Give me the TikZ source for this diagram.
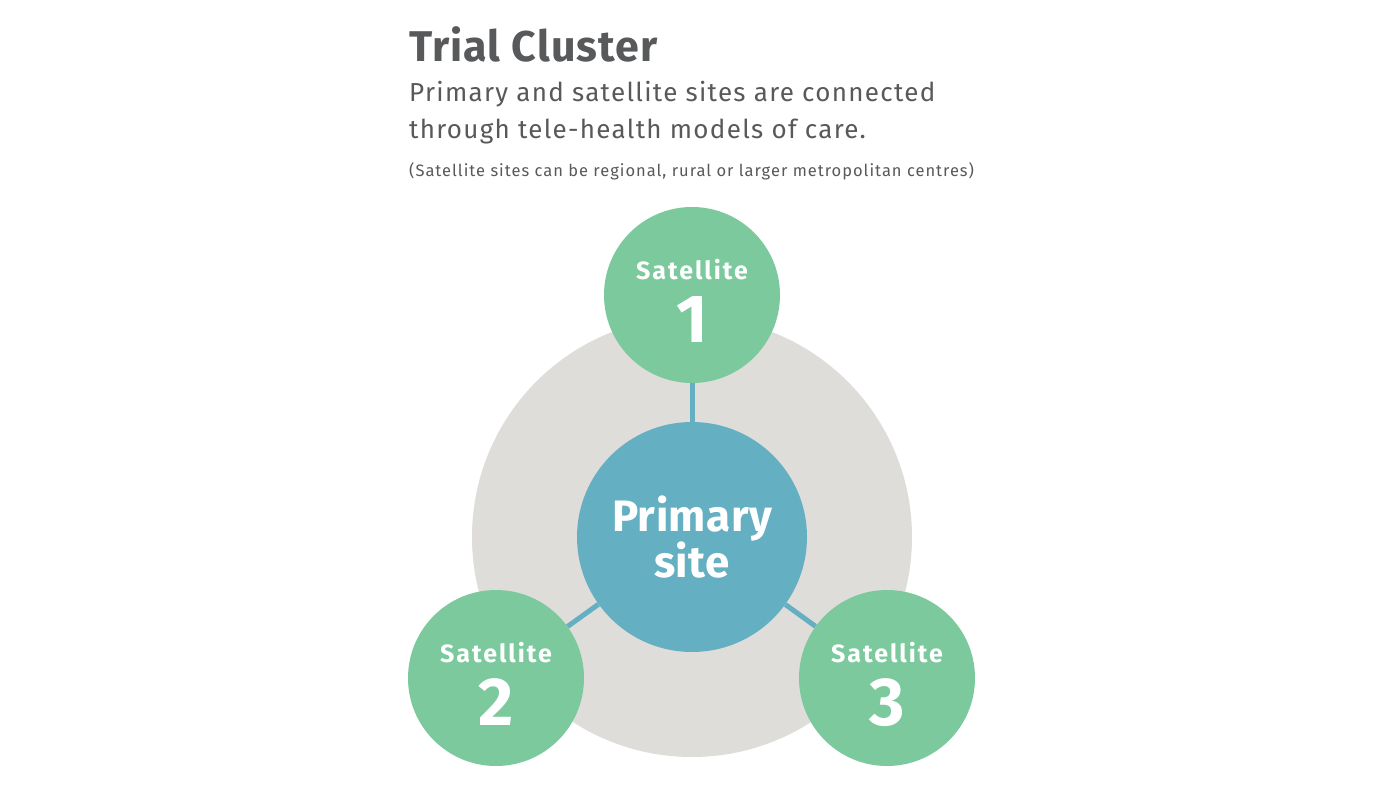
\documentclass[tikz,border=0pt]{standalone}
\usepackage{fontspec}
\setmainfont{Fira Sans}
\usepackage{xcolor}
\usepackage{tikz}
\usetikzlibrary{
    positioning,
    backgrounds
}
\definecolor{ringgray}{HTML}{DFDDD9}
\definecolor{primblue}{HTML}{65AFC3}
\definecolor{satgreen}{HTML}{7BC99C}
\definecolor{txtgray}{HTML}{58595B}
\tikzset{
    site/.style={
        circle, draw=none, inner sep=0pt
    },
    primary/.style={
        site, fill=primblue, minimum size=230pt,
        text=white, align=center,
        font=\fontsize{44}{46}\selectfont\bfseries\addfontfeature{LetterSpace=1}
    },
    satellite/.style={
        site, fill=satgreen, minimum size=176pt
    },
    sitetext/.style={
        text=white, inner sep=0pt, anchor=base
    },
    link/.style={
        draw=primblue, line width=5pt
    },
    headtext/.style={
        text=txtgray, inner sep=0pt, anchor=base west
    }
}

\begin{document}
\begin{tikzpicture}[
    x=1pt, y=-1pt,
    ring/.style={site, fill=ringgray, minimum size=440pt}
]
    \useasboundingbox (0,0) rectangle (1380,794);
    \fill[white] (0,0) rectangle (1380,794);

    % --- TITLE ---
    \node[headtext, font=\fontsize{43}{43}\selectfont\bfseries\addfontfeature{LetterSpace=2.5}] (title) at (409,62) {Trial Cluster};
    \node[headtext, font=\fontsize{26}{26}\selectfont\addfontfeature{LetterSpace=5}] (sub1) at (409,102) {Primary and satellite sites are connected};
    \node[headtext, font=\fontsize{26}{26}\selectfont\addfontfeature{LetterSpace=5}] (sub2) at (409,139) {through tele-health models of care.};
    \node[headtext, font=\fontsize{16.5}{16.5}\selectfont\addfontfeature{LetterSpace=6}] (note) at (409,177) {(Satellite sites can be regional, rural or larger metropolitan centres)};

    % --- CLUSTER ---
    \node[ring] (ring) at (692,537) {};
    \node[satellite] (sat1) at (692,295) {};
    \node[satellite] (sat2) at (496,678) {};
    \node[satellite] (sat3) at (887,678) {};
    \node[primary] (prim) at (692,537) {Primary\\site};

    % --- LINKS ---
    \foreach \n in {1,2,3}
        \draw[link] (prim) -- (sat\n);

    % --- SATELLITE LABELS ---
    \foreach \n in {1,2,3} {
        \node[sitetext, font=\fontsize{25}{25}\selectfont\bfseries\addfontfeature{LetterSpace=8}] (sat\n-name) at ([yshift=16pt]sat\n.center) {Satellite};
        \node[sitetext, font=\fontsize{68}{68}\selectfont\bfseries] (sat\n-num) at ([yshift=-47pt]sat\n.center) {\n};
    }

\end{tikzpicture}
\end{document}
